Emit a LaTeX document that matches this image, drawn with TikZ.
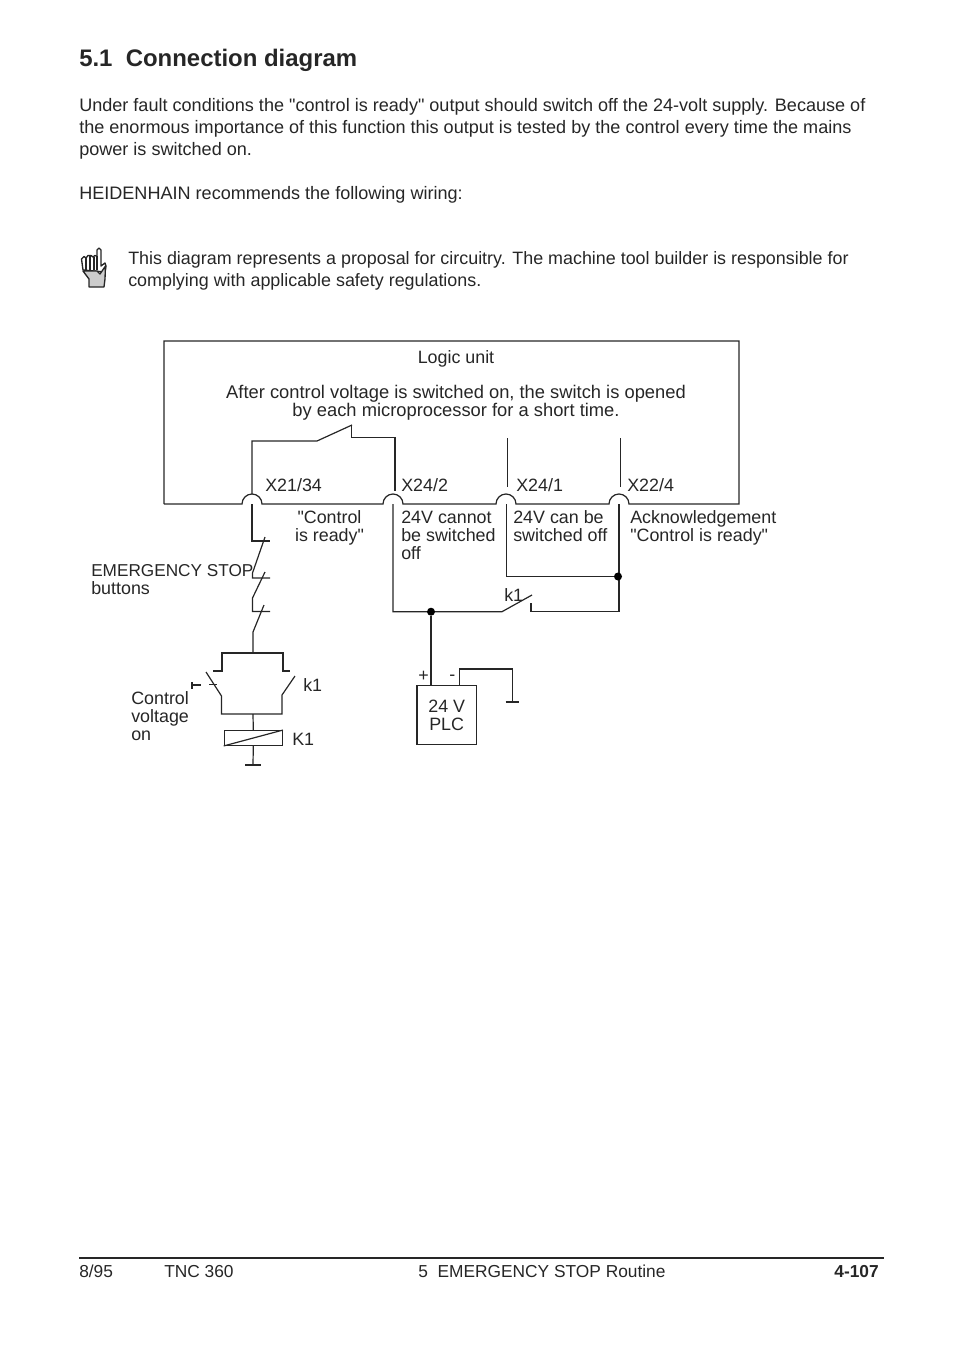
\documentclass[tikz,border=0pt]{standalone}
\usepackage{fontspec}
\setmainfont{Liberation Sans}[Ligatures=TeXOff]
\definecolor{inkgray}{gray}{0.15}
\definecolor{handgray}{gray}{0.80}
\tikzset{
  wire/.style={line width=0.9pt,draw=inkgray},
  dot/.style={circle,fill=black,inner sep=0pt,minimum size=6pt},
  bodytext/.style={anchor=base west,inner sep=0pt,align=left,text=inkgray,font=\fontsize{13.55}{16.5}\selectfont},
  foottext/.style={anchor=base west,inner sep=0pt,text=inkgray,font=\fontsize{13}{16}\selectfont},
  label/.style={anchor=base west,inner sep=0pt,align=left,text=inkgray,font=\fontsize{13.4}{13.5}\selectfont},
}
\begin{document}
\begin{tikzpicture}[x=0.75pt,y=-0.75pt]
    \useasboundingbox (0,0) rectangle (954,1346);

    % page text
    \node[bodytext,font=\fontsize{17.95}{20}\bfseries\selectfont] (title) at (79,66) {5.1\ \ Connection diagram};
    \node[bodytext] (intro) at (79,155) {Under fault conditions the "control is ready" output should switch off the 24-volt supply. Because of\\the enormous importance of this function this output is tested by the control every time the mains\\power is switched on.};
    \node[bodytext] (recommend) at (79,199) {HEIDENHAIN recommends the following wiring:};
    \node[bodytext,font=\fontsize{13.42}{16}\selectfont] (note) at (128,286) {This diagram represents a proposal for circuitry. The machine tool builder is responsible for\\complying with applicable safety regulations.};

    % hand
    \draw[line width=1pt,draw=inkgray,fill=white,line join=round]
      (83,270) -- (81.5,259) -- (84,256.5) -- (86,258) -- (88,255.5) -- (91,255.5) -- (93,257)
      -- (95,255.5) -- (97,256.5) -- (97,250) -- (99,248) -- (101,250) -- (101,266) -- (105,263) -- (106,266) -- (105,272) -- cycle;
    \draw[line width=1pt,draw=inkgray,fill=handgray,line join=round]
      (89,287) -- (89,279) -- (83,271) -- (97,271) -- (100,274) -- (105.5,266) -- (105,279) -- (104,287) -- cycle;
    \draw[line width=0.8pt,draw=inkgray] (86,258) -- (86,270) (90,256) -- (90,270) (94,257) -- (94,270) (97,256) -- (97,270);

    % logic unit
    \coordinate (boxTL) at (164,341);
    \coordinate (boxTR) at (739,341);
    \coordinate (boxBL) at (164,504);
    \coordinate (boxBR) at (739,504);
    \coordinate (termA) at (252,504);
    \coordinate (termB) at (393,504);
    \coordinate (termC) at (506,504);
    \coordinate (termD) at (619,504);
    \node[label,anchor=base] (logic) at (456,363) {Logic unit};
    \node[label,anchor=base,align=center,font=\fontsize{13.75}{13}\selectfont] (logictext) at (456,416) {After control voltage is switched on, the switch is opened\\by each microprocessor for a short time.};
    \draw[wire] (boxBL) -- (boxTL) -- (boxTR) -- (boxBR) -- ([xshift=7.5pt]termD)
       arc (0:180:7.5pt) -- ([xshift=7.5pt]termC)
       arc (0:180:7.5pt) -- ([xshift=7.5pt]termB)
       arc (0:180:7.5pt) -- ([xshift=7.5pt]termA)
       arc (0:180:7.5pt) -- (boxBL);

    % switch in logic unit
    \coordinate (swA) at (252,494);
    \coordinate (swB) at (395,491);
    \draw[wire] (swA) -- (252,441) -- (317,441) -- (352,425);
    \draw[wire] (351.5,426) -- (351.5,437.5) -- (395,437.5) -- (swB);
    \draw[wire] (507.5,438) -- (507.5,487);
    \draw[wire] (620.5,438) -- (620.5,487);

    \node[label] (xa) at (265,491) {X21/34};
    \node[label] (xb) at (401,491) {X24/2};
    \node[label] (xc) at (516,491) {X24/1};
    \node[label] (xd) at (627,491) {X22/4};
    \node[label,anchor=base,align=center] (ready) at (329.5,541) {"Control\\is ready"};
    \node[label] (cannot) at (401,559) {24V cannot\\be switched\\off};
    \node[label] (can) at (513,541) {24V can be\\switched off};
    \node[label] (ack) at (630,541) {Acknowledgement\\"Control is ready"};

    % emergency stop chain
    \node[label,anchor=base west] (estop) at (91,594) {\fontsize{12.9}{13.5}\selectfont EMERGENCY STOP\\buttons};
    \draw[wire] (252,504) -- (252,541) -- (270,541);
    \draw[wire] (265,537) -- (252.5,573) -- (252.5,578) -- (270,578);
    \draw[wire] (265,572) -- (252.5,598) -- (252.5,611.5) -- (270,611.5);
    \draw[wire] (264,605) -- (253,632) -- (253,653);
    \draw[wire] (213,671) -- (222,671) -- (222,653) -- (283,653) -- (283,671) -- (290,671);
    \draw[wire] (206,672) -- (221.5,696) -- (221.5,714) -- (282,714) -- (282,695) -- (295,676);
    \draw[wire] (209,684.5) -- (217,684.5);
    \draw[wire] (192,682) -- (192,689) (192,685) -- (201,685);
    \node[label] (k1a) at (303,691) {k1};
    \node[label] (ctrl) at (131,740) {Control\\voltage\\on};

    % coil
    \node[draw=inkgray,line width=0.9pt,inner sep=0pt,minimum width=43.5pt,minimum height=11pt] (coil) at (253.3,738) {};
    \draw[wire] (253,714) -- (coil.north);
    \draw[wire] (coil.south west) -- (coil.north east);
    \coordinate (gndA) at (253,765);
    \draw[wire] (coil.south) -- (gndA);
    \draw[wire] ([xshift=-6pt]gndA) -- ([xshift=6pt]gndA);
    \node[label] (k1b) at (292,745) {K1};

    % supply side
    \coordinate (nodeA) at (431,611.7);
    \coordinate (nodeB) at (618,576.5);
    \draw[wire] (393,504) -- (393,611.7) -- (nodeA) -- (502,611.7) -- (532,595);
    \draw[wire] (531,603) -- (531,611.7) -- (619,611.7) -- (619,504);
    \draw[wire] (506.3,504) -- (506.3,576.5) -- (nodeB);
    \node[dot] (dotA) at (nodeA) {};
    \node[dot] (dotB) at (nodeB) {};
    \node[label] (k1c) at (504,601) {k1};

    % plc
    \node[draw=inkgray,line width=0.9pt,inner sep=0pt,minimum width=44.5pt,minimum height=44.7pt,align=center,text=inkgray,font=\fontsize{13.4}{13.5}\selectfont] (plc) at (446.7,715) {24 V\\PLC};
    \draw[wire] (dotA) -- (plc.north -| dotA);
    \coordinate (gndB) at (512.3,702);
    \draw[wire] (459.7,685) -- (459.7,669) -- (512.3,669) -- (gndB);
    \draw[wire] ([xshift=-5pt]gndB) -- ([xshift=5pt]gndB);
    \node[label] (plus) at (418,681) {+};
    \node[label] (minus) at (449,680) {-};

    % footer
    \coordinate (footL) at (79,1258);
    \coordinate (footR) at (884,1258);
    \draw[wire] (footL) -- (footR);
    \node[foottext] (date) at (79,1277) {8/95};
    \node[foottext] (tnc) at (164,1277) {TNC 360};
    \node[foottext] (chapter) at (418,1277) {5\ \ EMERGENCY STOP Routine};
    \node[foottext,anchor=base east,font=\fontsize{13}{16}\bfseries\selectfont] (page) at (879,1277) {4-107};
\end{tikzpicture}
\end{document}
